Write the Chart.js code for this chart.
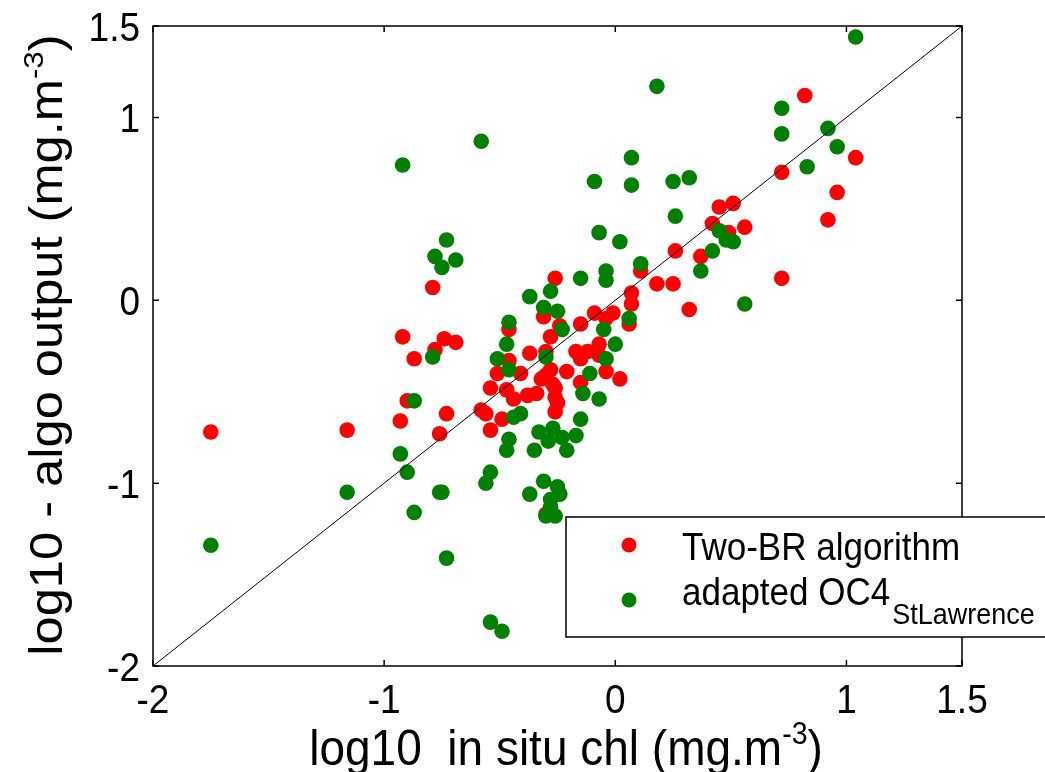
<!DOCTYPE html>
<html>
<head>
<meta charset="utf-8">
<script src="https://cdn.jsdelivr.net/npm/chart.js@4/dist/chart.umd.min.js"></script>
<style>
  body { margin: 0; background: #fff; }
  canvas { display: block; }
</style>
</head>
<body>
<canvas id="scatterChart" width="1045" height="772"></canvas>
<script>
// Two-BR algorithm: [log10 in situ chl, log10 algo output]
const twoBrPoints = [
  [-0.79, 0.07], [0.82, 1.12], [1.04, 0.78], [0.72, 0.70], [0.96, 0.59], [0.92, 0.44],
  [0.45, 0.51], [0.51, 0.53], [0.42, 0.42], [0.56, 0.40], [0.49, 0.37], [0.26, 0.27],
  [0.37, 0.24], [0.72, 0.12], [0.32, -0.05], [0.18, 0.09], [0.25, 0.09], [0.11, 0.16],
  [-0.26, 0.12], [-0.31, -0.09], [0.07, 0.04], [0.07, -0.02], [-0.09, -0.07], [-0.01, -0.07],
  [-0.04, -0.10], [0.06, -0.13], [-0.15, -0.13], [-0.24, -0.14], [-0.46, -0.16], [-0.92, -0.20],
  [-0.74, -0.21], [-0.69, -0.23], [-0.78, -0.27], [-0.87, -0.32], [-0.90, -0.55], [-0.93, -0.66],
  [-0.73, -0.62], [-0.76, -0.73], [-0.28, -0.20], [-0.46, -0.33], [-0.41, -0.40], [-0.51, -0.40],
  [-0.37, -0.29], [-0.30, -0.28], [-0.54, -0.48], [-0.47, -0.49], [-0.44, -0.54], [-0.38, -0.52],
  [-0.34, -0.51], [-0.28, -0.38], [-0.32, -0.43], [-0.27, -0.46], [-0.26, -0.53], [-0.26, -0.61],
  [-0.58, -0.60], [-0.56, -0.62], [-0.49, -0.65], [-0.54, -0.71], [-0.07, -0.24], [-0.17, -0.28],
  [-0.12, -0.28], [-0.15, -0.32], [-0.07, -0.30], [-0.04, -0.39], [0.02, -0.43], [-0.21, -0.39],
  [-0.15, -0.45], [-1.75, -0.72], [-1.16, -0.71], [-0.30, -1.17], [-0.30, -0.41], [-0.26, -0.48],
  [-0.25, -0.56],
];

// adapted OC4 StLawrence
const oc4Points = [
  [-0.92, 0.74], [-0.58, 0.87], [-0.73, 0.33], [-0.78, 0.24], [-0.69, 0.22], [-0.75, 0.18],
  [1.04, 1.44], [0.18, 1.17], [0.72, 1.05], [0.72, 0.91], [0.92, 0.94], [0.96, 0.84],
  [0.83, 0.73], [0.07, 0.78], [-0.09, 0.65], [0.07, 0.63], [0.25, 0.65], [0.32, 0.67],
  [0.26, 0.46], [0.45, 0.38], [0.48, 0.33], [0.51, 0.32], [0.42, 0.27], [0.37, 0.16],
  [0.56, -0.02], [-0.07, 0.37], [0.02, 0.32], [0.11, 0.20], [-0.04, 0.16], [-0.04, 0.11],
  [-0.15, 0.12], [-0.28, 0.05], [-0.37, 0.02], [-0.31, -0.04], [-0.25, -0.06], [0.06, -0.10],
  [-0.05, -0.16], [-0.46, -0.12], [-0.23, -0.16], [-0.79, -0.31], [-0.87, -0.55], [-0.47, -0.24],
  [-0.51, -0.32], [-0.46, -0.38], [-0.30, -0.31], [-0.44, -0.64], [-0.41, -0.62], [-0.33, -0.72],
  [-0.27, -0.70], [-0.46, -0.76], [0.00, -0.24], [-0.04, -0.32], [-0.11, -0.40], [-0.14, -0.51],
  [-0.07, -0.54], [-0.15, -0.65], [-0.17, -0.74], [-0.23, -0.75], [-0.29, -0.77], [-0.21, -0.82],
  [-0.47, -0.82], [-0.35, -0.82], [-0.54, -0.94], [-0.56, -1.00], [-0.75, -1.05], [-0.31, -0.99],
  [-0.25, -1.02], [-0.37, -1.06], [-0.24, -1.06], [-0.28, -1.09], [-0.28, -1.13], [-0.30, -1.18],
  [-0.26, -1.18], [-1.75, -1.34], [-1.16, -1.05], [-0.93, -0.84], [-0.90, -0.94], [-0.76, -1.05],
  [-0.87, -1.16], [-0.73, -1.41], [-0.54, -1.76], [-0.49, -1.81],
];

// 1:1 line and ticks
const oneToOne = [-2, 1.5];
const xTicks = [-2, -1, 0, 1, 1.5];
const yTicks = [-2, -1, 0, 1, 1.5];

const FONT = "'Liberation Sans', Arial, sans-serif";
const STRETCH = 1.12; // the original figure is slightly taller than wide

function toXY(points) {
  return points.map((p) => ({ x: p[0], y: p[1] }));
}

// one text, stretched vertically
function tallText(ctx, text, size, x, y, align) {
  ctx.save();
  ctx.font = size + "px " + FONT;
  ctx.textAlign = align;
  ctx.translate(x, y);
  ctx.scale(1, STRETCH);
  ctx.fillText(text, 0, 0);
  ctx.restore();
}

// text with a superscript part, centred on 0,0 of the current transform
function drawParts(ctx, parts, size) {
  let w = 0;
  parts.forEach((p) => {
    ctx.font = (p.sup ? size * 0.62 : size) + "px " + FONT;
    w += ctx.measureText(p.t).width;
  });
  let cx = -w / 2;
  parts.forEach((p) => {
    ctx.font = (p.sup ? size * 0.62 : size) + "px " + FONT;
    ctx.fillText(p.t, cx, p.sup ? -size * 0.42 : 0);
    cx += ctx.measureText(p.t).width;
  });
}

// frame, inward ticks, tick labels, titles and legend
const decorPlugin = {
  id: "decor",
  afterDraw(chart) {
    const ctx = chart.ctx;
    const a = chart.chartArea;
    const xs = chart.scales.x;
    const ys = chart.scales.y;
    ctx.save();
    ctx.strokeStyle = "#000";
    ctx.lineWidth = 1.5;
    ctx.strokeRect(a.left, a.top, a.right - a.left, a.bottom - a.top);

    ctx.beginPath();
    xTicks.forEach((v) => {
      const px = xs.getPixelForValue(v);
      ctx.moveTo(px, a.bottom);
      ctx.lineTo(px, a.bottom - 6);
      ctx.moveTo(px, a.top);
      ctx.lineTo(px, a.top + 6);
    });
    yTicks.forEach((v) => {
      const py = ys.getPixelForValue(v);
      ctx.moveTo(a.left, py);
      ctx.lineTo(a.left + 6, py);
      ctx.moveTo(a.right, py);
      ctx.lineTo(a.right - 6, py);
    });
    ctx.stroke();

    // tick labels
    ctx.fillStyle = "#000";
    ctx.textBaseline = "alphabetic";
    xTicks.forEach((v) => {
      tallText(ctx, String(v), 37, xs.getPixelForValue(v), a.bottom + 47, "center");
    });
    yTicks.forEach((v) => {
      tallText(ctx, String(v), 37, a.left - 13, ys.getPixelForValue(v) + 15, "right");
    });

    // axis titles
    ctx.textAlign = "left";
    ctx.save();
    ctx.translate(566, 765);
    ctx.scale(1, 1.1);
    drawParts(ctx, [{ t: "log10  in situ chl (mg.m" }, { t: "-3", sup: true }, { t: ")" }], 46);
    ctx.restore();

    ctx.save();
    ctx.translate(62, 345);
    ctx.rotate(-Math.PI / 2);
    ctx.scale(1.1, 1);
    drawParts(ctx, [{ t: "log10 - algo output (mg.m" }, { t: "-3", sup: true }, { t: ")" }], 46);
    ctx.restore();

    // legend
    ctx.fillStyle = "#fff";
    ctx.fillRect(566, 517, 490, 120);
    ctx.lineWidth = 1.5;
    ctx.strokeRect(566, 517, 490, 120);
    ctx.fillStyle = "#ff0000";
    ctx.beginPath();
    ctx.arc(629, 545, 7.5, 0, Math.PI * 2);
    ctx.fill();
    ctx.fillStyle = "#008000";
    ctx.beginPath();
    ctx.arc(629, 600, 7.5, 0, Math.PI * 2);
    ctx.fill();
    ctx.fillStyle = "#000";
    tallText(ctx, "Two-BR algorithm", 35, 682, 560, "left");
    tallText(ctx, "adapted OC4", 35, 682, 605, "left");
    ctx.font = "35px " + FONT;
    const w = ctx.measureText("adapted OC4").width;
    tallText(ctx, "StLawrence", 27, 682 + w + 2, 624, "left");
    ctx.restore();
  },
};

document.addEventListener("DOMContentLoaded", function () {
  const ctx = document.getElementById("scatterChart").getContext("2d");

  new Chart(ctx, {
    type: "scatter",
    data: {
      datasets: [
        {
          type: "line",
          label: "1:1",
          data: oneToOne.map((v) => ({ x: v, y: v })),
          borderColor: "#000",
          borderWidth: 1,
          pointRadius: 0,
          fill: false,
        },
        {
          label: "adapted OC4 StLawrence",
          data: toXY(oc4Points),
          backgroundColor: "#008000",
          borderWidth: 0,
          pointRadius: 7.8,
        },
        {
          label: "Two-BR algorithm",
          data: toXY(twoBrPoints),
          backgroundColor: "#ff0000",
          borderWidth: 0,
          pointRadius: 7.8,
        },
      ],
    },
    options: {
      responsive: false,
      animation: false,
      layout: { padding: { top: 26, right: 83, left: 0, bottom: 0 } },
      plugins: {
        legend: { display: false },
        tooltip: { enabled: false },
      },
      scales: {
        x: {
          type: "linear",
          min: -2,
          max: 1.5,
          afterBuildTicks: (s) => { s.ticks = xTicks.map((v) => ({ value: v })); },
          afterFit: (s) => { s.height = 106; },
          grid: { display: false, drawTicks: false },
          border: { display: false },
          ticks: { display: false },
        },
        y: {
          type: "linear",
          min: -2,
          max: 1.5,
          afterBuildTicks: (s) => { s.ticks = yTicks.map((v) => ({ value: v })); },
          afterFit: (s) => { s.width = 153; },
          grid: { display: false, drawTicks: false },
          border: { display: false },
          ticks: { display: false },
        },
      },
    },
    plugins: [decorPlugin],
  });
});
</script>
</body>
</html>
